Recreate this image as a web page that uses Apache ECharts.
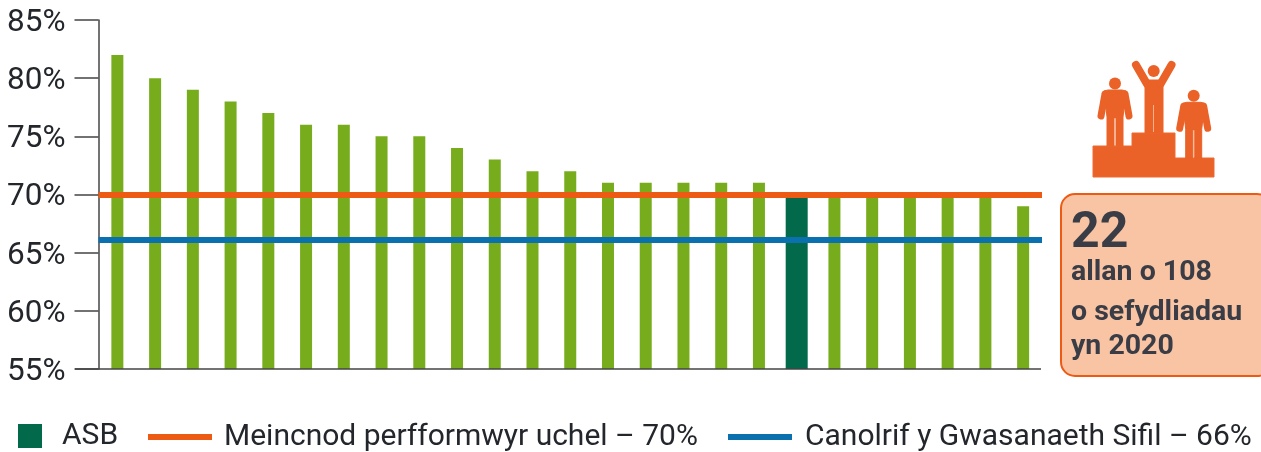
<!DOCTYPE html>
<html><head><meta charset="utf-8">
<style>html,body{margin:0;padding:0;background:#fff}#c{width:1261px;height:452px}</style>
<script src="https://cdn.jsdelivr.net/npm/echarts@6/dist/echarts.min.js"></script>
</head><body><div id="c"></div>
<script>
const categories = ['1','2','3','4','5','6','7','8','9','10','11','12','13','14','15','16','17','18','ASB','20','21','22','23','24','25'];
const otherValues = [82,80,79,78,77,76,76,75,75,74,73,72,72,71,71,71,71,71,null,70,70,70,70,70,69];
const asbValues = [null,null,null,null,null,null,null,null,null,null,null,null,null,null,null,null,null,null,70,null,null,null,null,null,null];
const benchmarkValue = 70;
const civilServiceValue = 66.14;
const asbName = 'ASB';
const benchmarkName = 'Meincnod perfformwyr uchel – 70%';
const civilServiceName = 'Canolrif y Gwasanaeth Sifil – 66%';
const boxLines = ['allan o 108','o sefydliadau','yn 2020'];
const font = 'Roboto';
const ORANGE='#EC5A14', FILL='#EA6227', BLUE='#0A70AE', GREEN='#77AD1C', DARK='#02694B', INK='#23262b';

function person(dx,dy){
  const st={fill:FILL,stroke:FILL,lineWidth:1};
  return [
    {type:'circle',silent:true,shape:{cx:1115+dx,cy:83.5+dy,r:6},style:{fill:FILL}},
    {type:'polygon',silent:true,shape:{points:[[1104+dx,91+dy],[1108+dx,90+dy],[1122+dx,90+dy],[1126+dx,91+dy],[1123+dx,117+dy],[1123+dx,146+dy],[1116+dx,146+dy],[1116+dx,118+dy],[1114+dx,118+dy],[1114+dx,146+dy],[1107+dx,146+dy],[1107+dx,117+dy]]},style:st},
    {type:'polyline',silent:true,shape:{points:[[1105+dx,94+dy],[1101+dx,116+dy]]},style:{stroke:FILL,lineWidth:7,lineCap:'round',fill:null}},
    {type:'polyline',silent:true,shape:{points:[[1125+dx,94+dy],[1129+dx,116+dy]]},style:{stroke:FILL,lineWidth:7,lineCap:'round',fill:null}}
  ];
}
const icon=[
  {type:'polygon',silent:true,shape:{points:[[1093,146],[1132,146],[1132,133],[1175,133],[1175,158],[1214,158],[1214,177],[1093,177]]},style:{fill:FILL,stroke:'#ED6A33',lineWidth:1}},
  ...person(0,0),...person(78.7,12.3),
  {type:'circle',silent:true,shape:{cx:1153.7,cy:71,r:6},style:{fill:FILL}},
  {type:'polygon',silent:true,shape:{points:[[1145,80],[1163,80],[1163,133],[1145,133]]},style:{fill:FILL,stroke:FILL}},
  {type:'polyline',silent:true,shape:{points:[[1136,65],[1147,84]]},style:{stroke:FILL,lineWidth:8,lineCap:'round',fill:null}},
  {type:'polyline',silent:true,shape:{points:[[1171.5,65],[1160.5,84]]},style:{stroke:FILL,lineWidth:8,lineCap:'round',fill:null}},
  {type:'line',silent:true,shape:{x1:1153.5,y1:105,x2:1153.5,y2:132},style:{stroke:'#F5B08E',lineWidth:1}},
  {type:'line',silent:true,shape:{x1:1115,y1:118,x2:1115,y2:145},style:{stroke:'#F5B08E',lineWidth:1}},
  {type:'line',silent:true,shape:{x1:1193.7,y1:130,x2:1193.7,y2:157},style:{stroke:'#F5B08E',lineWidth:1}}
];
const boxText=(t,y,size)=>({type:'text',silent:true,x:1071,y,style:{text:t,fill:'#3A3D45',font:`700 ${size}px ${font}`,textVerticalAlign:'middle'}});
const box=[
  {type:'rect',silent:true,shape:{x:1061,y:194,width:210,height:182,r:14},style:{fill:'#F9C4A4',stroke:ORANGE,lineWidth:2}},
  boxText('22',234,50),boxText(boxLines[0],273,28.5),boxText(boxLines[1],313,28.5),boxText(boxLines[2],347,28.5)
];
const legendBase={top:416,itemGap:0,textStyle:{fontFamily:font,fontSize:30,color:INK},selectedMode:false,icon:'rect'};
const chart=echarts.init(document.getElementById('c'),null,{renderer:'canvas'});
chart.setOption({
  animation:false,
  backgroundColor:'#fff',
  grid:{left:98.5,right:219,top:20,bottom:83},
  legend:[
    {...legendBase,data:[asbName],left:13,itemWidth:24,itemHeight:24,textStyle:{...legendBase.textStyle,padding:[0,0,0,15]}},
    {...legendBase,data:[benchmarkName],left:143,top:417,itemWidth:64,itemHeight:6,textStyle:{...legendBase.textStyle,padding:[0,0,0,7]}},
    {...legendBase,data:[civilServiceName],left:723,top:417,itemWidth:64,itemHeight:6,textStyle:{...legendBase.textStyle,padding:[0,0,0,8]}}
  ],
  xAxis:[
    {type:'category',data:categories,axisLine:{show:false},axisTick:{show:false},axisLabel:{show:false}},
    {type:'category',data:categories,show:false}
  ],
  yAxis:{type:'value',min:55,max:85,interval:5,
    axisLine:{show:true,lineStyle:{color:'#444',width:1.5}},
    axisTick:{show:true,length:24,lineStyle:{color:'#444',width:1.5}},
    axisLabel:{margin:33,color:INK,formatter:'{a|{value}%}',
      rich:{a:{fontFamily:font,fontSize:31.5,color:INK,padding:[6,0,0,0]}}},
    splitLine:{show:false}},
  series:[
    {name:'Eraill',type:'bar',xAxisIndex:0,data:otherValues,barWidth:12,itemStyle:{color:GREEN}},
    {name:asbName,type:'bar',xAxisIndex:1,data:asbValues,barWidth:22,itemStyle:{color:DARK}},
    {name:benchmarkName,type:'line',data:[],itemStyle:{color:ORANGE},lineStyle:{color:ORANGE},symbol:'none',
     markLine:{silent:true,symbol:'none',label:{show:false},lineStyle:{color:ORANGE,width:6,type:'solid'},data:[{yAxis:benchmarkValue}],z:5}},
    {name:civilServiceName,type:'line',data:[],itemStyle:{color:BLUE},lineStyle:{color:BLUE},symbol:'none',
     markLine:{silent:true,symbol:'none',label:{show:false},lineStyle:{color:BLUE,width:6,type:'solid'},data:[{yAxis:civilServiceValue}],z:5}}
  ],
  graphic:[...icon,...box,
    {type:'line',silent:true,z:10,shape:{x1:75,y1:369,x2:1041,y2:369},style:{stroke:'#444',lineWidth:1.5}}]
});
</script></body></html>
